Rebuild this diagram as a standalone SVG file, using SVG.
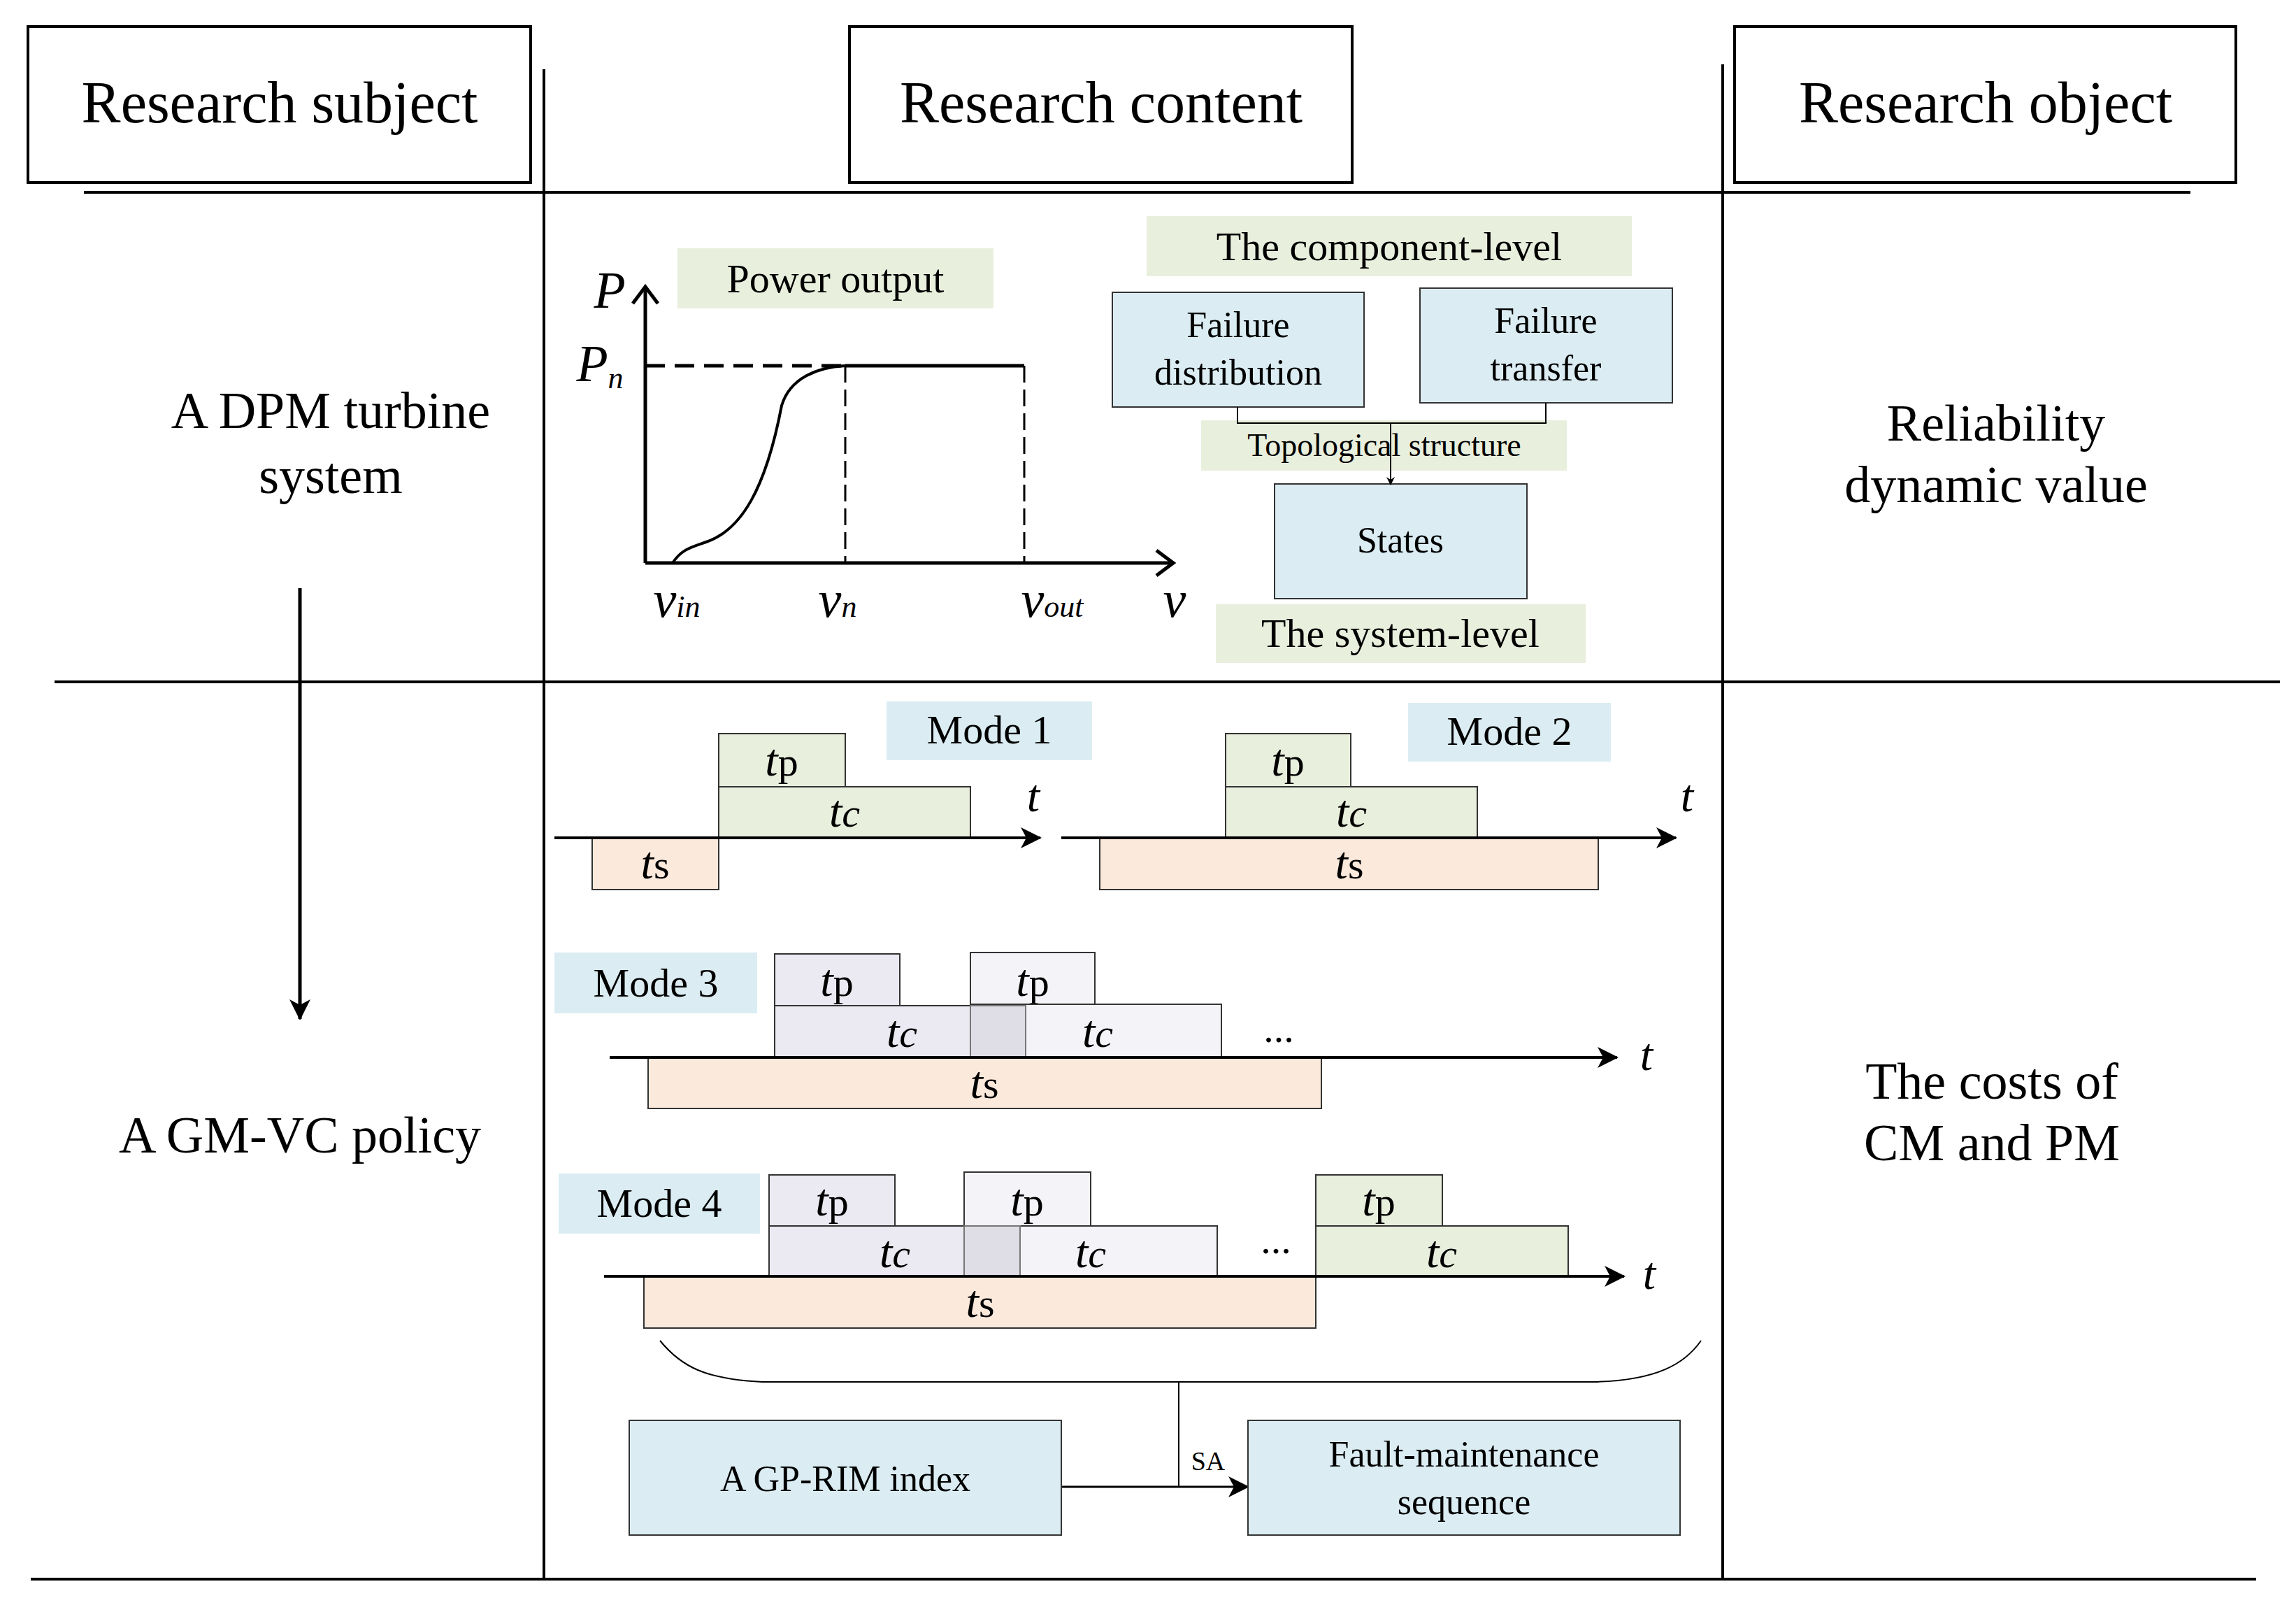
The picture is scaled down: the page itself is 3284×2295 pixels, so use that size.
<svg xmlns="http://www.w3.org/2000/svg" width="3284" height="2295" viewBox="0 0 3284 2295">
<style>
text{font-family:"Liberation Serif","DejaVu Serif",serif;fill:#000;text-anchor:middle}
.h{font-size:84px}.big{font-size:74px}.m{font-size:58px}.s{font-size:52px}.i{font-style:italic}
.g{fill:#e9efdd}.b{fill:#dbedf3;stroke:#333;stroke-width:2}.bn{fill:#dbedf3}.o{fill:#fbe9dc;stroke:#333;stroke-width:2}
.gs{fill:#e9efdd;stroke:#333;stroke-width:2}.l1{fill:#ebe9f1;stroke:#333;stroke-width:2}.l2{fill:#f4f3f8;stroke:#333;stroke-width:2}.l3{fill:#dfdde6;stroke:#777;stroke-width:2}
.ln{stroke:#000;fill:none}
</style>
<defs>
<marker id="a" markerWidth="12" markerHeight="12" refX="10" refY="6" orient="auto" markerUnits="userSpaceOnUse" viewBox="0 0 12 12"><path d="M0,0 L12,6 L0,12 L4,6z" fill="#000"/></marker>
<marker id="ab" markerWidth="30" markerHeight="30" refX="28" refY="15" orient="auto" markerUnits="userSpaceOnUse"><path d="M0,0 L30,15 L0,30 L8,15z" fill="#000"/></marker>
<marker id="ax" markerWidth="30" markerHeight="40" refX="26" refY="20" orient="auto" markerUnits="userSpaceOnUse"><path d="M2,2 L26,20 L2,38" fill="none" stroke="#000" stroke-width="5"/></marker>
</defs>
<rect width="3284" height="2295" fill="#fff"/>
<g id="grid" class="ln" stroke-width="4">
<line x1="120" y1="275" x2="3133" y2="275"/>
<line x1="78" y1="975" x2="3261" y2="975"/>
<line x1="44" y1="2258" x2="3227" y2="2258"/>
<line x1="778" y1="99" x2="778" y2="2258"/>
<line x1="2464" y1="92" x2="2464" y2="2258"/>
</g>
<g id="hdr1"><rect x="40" y="38" width="719" height="223" fill="#fff" stroke="#000" stroke-width="4"/><text class="h" x="400" y="175">Research subject</text></g>
<g id="hdr2"><rect x="1215" y="38" width="719" height="223" fill="#fff" stroke="#000" stroke-width="4"/><text class="h" x="1575" y="175">Research content</text></g>
<g id="hdr3"><rect x="2481" y="38" width="717" height="223" fill="#fff" stroke="#000" stroke-width="4"/><text class="h" x="2840" y="175">Research object</text></g>
<g id="left"><text class="big" x="473" y="612">A DPM turbine</text><text class="big" x="473" y="705">system</text>
<line x1="429" y1="841" x2="429" y2="1457" stroke="#000" stroke-width="5" marker-end="url(#ab)"/>
<text class="big" x="429" y="1648">A GM-VC policy</text></g>
<g id="right"><text class="big" x="2855" y="630">Reliability</text><text class="big" x="2855" y="718">dynamic value</text>
<text class="big" x="2849" y="1571">The costs of</text><text class="big" x="2849" y="1659">CM and PM</text></g>
<g id="power">
<line x1="923" y1="805" x2="923" y2="410" stroke="#000" stroke-width="5" marker-end="url(#ax)"/>
<line x1="923" y1="805" x2="1678" y2="805" stroke="#000" stroke-width="5" marker-end="url(#ax)"/>
<line x1="923" y1="523" x2="1209" y2="523" stroke="#000" stroke-width="5" stroke-dasharray="28,14"/>
<line x1="1209" y1="523" x2="1465" y2="523" stroke="#000" stroke-width="5"/>
<line x1="1209" y1="523" x2="1209" y2="805" stroke="#000" stroke-width="3" stroke-dasharray="24,10"/>
<line x1="1465" y1="523" x2="1465" y2="805" stroke="#000" stroke-width="3" stroke-dasharray="24,10"/>
<path d="M962,805 C975,785 990,782 1010,775 C1060,758 1095,700 1118,580 C1130,540 1170,525 1209,523" fill="none" stroke="#000" stroke-width="4"/>
<text class="big i" x="872" y="440">P</text>
<text class="big i" x="858" y="545">P<tspan font-size="44" dy="10">n</tspan></text>
<text class="big i" x="968" y="882">v<tspan font-size="44" dy="0">in</tspan></text>
<text class="big i" x="1198" y="882">v<tspan font-size="44">n</tspan></text>
<text class="big i" x="1505" y="882">v<tspan font-size="44">out</tspan></text>
<text class="big i" x="1680" y="882">v</text>
<rect class="g" x="969" y="355" width="452" height="86"/><text class="m" x="1195" y="418">Power output</text>
</g>
<g id="comp"><rect class="g" x="1640" y="309" width="694" height="86"/><text class="m" x="1987" y="372">The component-level</text></g>
<g id="fd"><rect class="b" x="1591" y="418" width="360" height="164"/><text class="s" x="1771" y="482">Failure</text><text class="s" x="1771" y="550">distribution</text></g>
<g id="ft"><rect class="b" x="2031" y="412" width="361" height="164"/><text class="s" x="2211" y="476">Failure</text><text class="s" x="2211" y="544">transfer</text></g>
<g id="topo"><rect class="g" x="1718" y="601" width="523" height="72"/><text x="1980" y="652" font-size="46">Topological structure</text></g>
<g id="states"><rect class="b" x="1823" y="692" width="361" height="164"/><text class="s" x="2003" y="790">States</text></g>
<g id="sys"><rect class="g" x="1739" y="864" width="529" height="84"/><text class="m" x="2003" y="925">The system-level</text></g>
<g id="connectors" class="ln" stroke-width="2">
<polyline points="1770,582 1770,605 2211,605 2211,576"/>
<line x1="1989" y1="605" x2="1989" y2="692" marker-end="url(#a)"/>
</g>
<g id="mode1">
<rect class="bn" x="1268" y="1003" width="294" height="84"/><text class="m" x="1415" y="1063">Mode 1</text>
<rect class="gs" x="1028" y="1049" width="181" height="76"/><text class="m" x="1118" y="1109"><tspan class="i" font-size="66">t</tspan>p</text>
<rect class="gs" x="1028" y="1125" width="360" height="73"/><text class="m i" x="1208" y="1182"><tspan font-size="66">t</tspan>c</text>
<rect class="o" x="847" y="1198" width="181" height="74"/><text class="m" x="937" y="1256"><tspan class="i" font-size="66">t</tspan>s</text>
<line x1="793" y1="1198" x2="1488" y2="1198" stroke="#000" stroke-width="4" marker-end="url(#ab)"/>
<text class="i" font-size="66" x="1478" y="1160">t</text>
</g>
<g id="mode2">
<rect class="bn" x="2014" y="1005" width="290" height="84"/><text class="m" x="2159" y="1065">Mode 2</text>
<rect class="gs" x="1753" y="1049" width="179" height="76"/><text class="m" x="1842" y="1109"><tspan class="i" font-size="66">t</tspan>p</text>
<rect class="gs" x="1753" y="1125" width="360" height="73"/><text class="m i" x="1933" y="1182"><tspan font-size="66">t</tspan>c</text>
<rect class="o" x="1573" y="1198" width="713" height="74"/><text class="m" x="1930" y="1256"><tspan class="i" font-size="66">t</tspan>s</text>
<line x1="1518" y1="1198" x2="2397" y2="1198" stroke="#000" stroke-width="4" marker-end="url(#ab)"/>
<text class="i" font-size="66" x="2413" y="1160">t</text>
</g>
<g id="mode3">
<rect class="bn" x="793" y="1362" width="290" height="87"/><text class="m" x="938" y="1425">Mode 3</text>
<rect class="l1" x="1108" y="1364" width="179" height="74"/><text class="m" x="1197" y="1424"><tspan class="i" font-size="66">t</tspan>p</text>
<rect class="l2" x="1388" y="1362" width="178" height="76"/><text class="m" x="1477" y="1424"><tspan class="i" font-size="66">t</tspan>p</text>
<rect class="l1" x="1108" y="1438" width="280" height="74"/><text class="m i" x="1290" y="1497"><tspan font-size="66">t</tspan>c</text>
<rect class="l2" x="1388" y="1436" width="359" height="76"/><rect class="l3" x="1388" y="1438" width="79" height="74"/><text class="m i" x="1570" y="1497"><tspan font-size="66">t</tspan>c</text>
<rect class="o" x="927" y="1512" width="963" height="73"/><text class="m" x="1408" y="1570"><tspan class="i" font-size="66">t</tspan>s</text>
<line x1="872" y1="1512" x2="2313" y2="1512" stroke="#000" stroke-width="4" marker-end="url(#ab)"/>
<text class="m" x="1829" y="1490">...</text>
<text class="i" font-size="66" x="2355" y="1530">t</text>
</g>
<g id="mode4">
<rect class="bn" x="799" y="1678" width="288" height="86"/><text class="m" x="943" y="1740">Mode 4</text>
<rect class="l1" x="1100" y="1680" width="180" height="73"/><text class="m" x="1190" y="1738"><tspan class="i" font-size="66">t</tspan>p</text>
<rect class="l2" x="1379" y="1676" width="181" height="77"/><text class="m" x="1469" y="1738"><tspan class="i" font-size="66">t</tspan>p</text>
<rect class="l1" x="1100" y="1753" width="279" height="72"/><text class="m i" x="1280" y="1812"><tspan font-size="66">t</tspan>c</text>
<rect class="l2" x="1379" y="1753" width="362" height="72"/><rect class="l3" x="1379" y="1753" width="80" height="72"/><text class="m i" x="1560" y="1812"><tspan font-size="66">t</tspan>c</text>
<rect class="o" x="921" y="1825" width="961" height="74"/><text class="m" x="1402" y="1883"><tspan class="i" font-size="66">t</tspan>s</text>
<rect class="gs" x="1882" y="1680" width="181" height="73"/><text class="m" x="1972" y="1738"><tspan class="i" font-size="66">t</tspan>p</text>
<rect class="gs" x="1882" y="1753" width="361" height="72"/><text class="m i" x="2062" y="1812"><tspan font-size="66">t</tspan>c</text>
<line x1="864" y1="1825" x2="2323" y2="1825" stroke="#000" stroke-width="4" marker-end="url(#ab)"/>
<text class="m" x="1825" y="1792">...</text>
<text class="i" font-size="66" x="2359" y="1843">t</text>
</g>
<g id="brace" class="ln" stroke-width="2">
<path d="M944,1917 C975,1955 1010,1972 1090,1976 L2280,1976 C2370,1974 2410,1950 2433,1917"/>
<line x1="1686" y1="1976" x2="1686" y2="2126"/>
<line x1="1518" y1="2126" x2="1785" y2="2126" stroke-width="3" marker-end="url(#ab)"/>
<text x="1728" y="2102" font-size="38" stroke="none">SA</text>
</g>
<g id="gprim"><rect class="b" x="900" y="2031" width="618" height="164"/><text class="s" x="1209" y="2132">A GP-RIM index</text></g>
<g id="fms"><rect class="b" x="1785" y="2031" width="618" height="164"/><text class="s" x="2094" y="2097">Fault-maintenance</text><text class="s" x="2094" y="2165">sequence</text></g>
</svg>
